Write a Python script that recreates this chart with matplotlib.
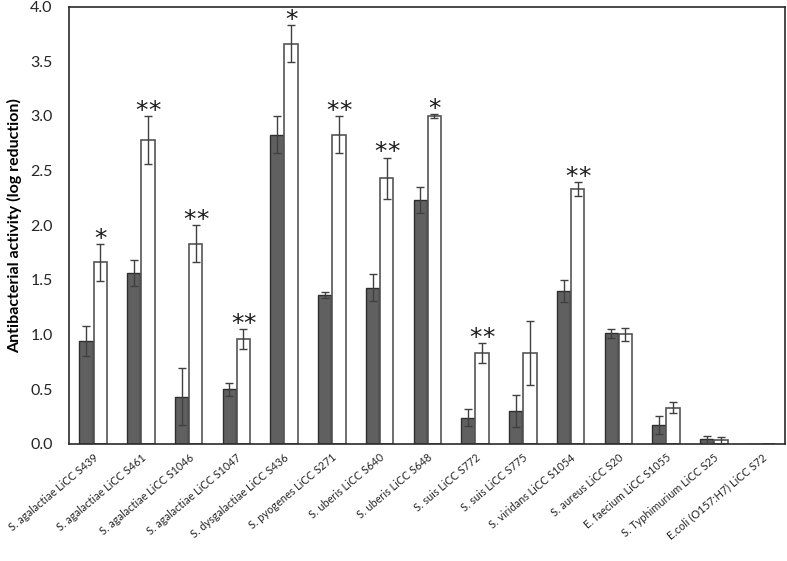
import numpy as np
import matplotlib
matplotlib.use("Agg")
import matplotlib.pyplot as plt

plt.rcParams['font.family'] = ['Lato', 'DejaVu Sans']

# strains on the x axis
strains = ["S. agalactiae LiCC S439", "S. agalactiae LiCC S461",
           "S. agalactiae LiCC S1046", "S. agalactiae LiCC S1047",
           "S. dysgalactiae LiCC S436", "S. pyogenes LiCC S271",
           "S. uberis LiCC S640", "S. uberis LiCC S648",
           "S. suis LiCC S772", "S. suis LiCC S775",
           "S. viridans LiCC S1054", "S. aureus LiCC S20",
           "E. faecium LiCC S1055", "S. Typhimurium LiCC S25",
           "E.coli (O157:H7) LiCC S72"]

# dark bars and their errors
dark_vals = [0.94, 1.56, 0.43, 0.50, 2.83, 1.36, 1.43, 2.23, 0.24, 0.30,
             1.40, 1.01, 0.17, 0.04, 0.0]
dark_err = [0.14, 0.12, 0.26, 0.06, 0.17, 0.03, 0.12, 0.12, 0.08, 0.15,
            0.10, 0.04, 0.08, 0.03, 0.0]

# white bars and their errors
white_vals = [1.66, 2.78, 1.83, 0.96, 3.66, 2.83, 2.43, 3.00, 0.83, 0.83,
              2.33, 1.00, 0.33, 0.03, 0.0]
white_err = [0.17, 0.22, 0.17, 0.09, 0.17, 0.17, 0.19, 0.02, 0.09, 0.29,
             0.065, 0.06, 0.05, 0.03, 0.0]

# significance marks above the white bars
stars = ["*", "**", "**", "**", "*", "**", "**", "*", "**", "",
         "**", "", "", "", ""]

yticks = [0.0, 0.5, 1.0, 1.5, 2.0, 2.5, 3.0, 3.5, 4.0]

fig = plt.figure(figsize=(7.87, 5.61), dpi=100)
ax = fig.add_axes([0.088, 0.209, 0.910, 0.779])

x = np.arange(len(strains)) + 0.5
w = 0.28
off = 0.148

ax.bar(x - off, dark_vals, w, color='#606060', edgecolor='#2e2e2e',
       linewidth=1.0, zorder=2)
ax.bar(x + off, white_vals, w, color='white', edgecolor='#555555',
       linewidth=1.2, zorder=2)

ekw = dict(fmt='none', ecolor='#404040', elinewidth=1.0, capsize=3,
           capthick=1.0, zorder=3)
mask_d = np.array(dark_vals) > 0
mask_w = np.array(white_vals) > 0
ax.errorbar((x - off)[mask_d], np.array(dark_vals)[mask_d],
            yerr=np.array(dark_err)[mask_d], **ekw)
ax.errorbar((x + off)[mask_w], np.array(white_vals)[mask_w],
            yerr=np.array(white_err)[mask_w], **ekw)

# one star centred, two stars side by side
for xi, v, e, s in zip(x + off, white_vals, white_err, stars):
    if not s:
        continue
    shifts = [0] if len(s) == 1 else [-4.6, 4.6]
    for dx in shifts:
        ax.annotate("*", xy=(xi, v + e), xytext=(dx, -5),
                    textcoords='offset points', ha='center', va='bottom',
                    fontsize=18, color='#1a1a1a', family='DejaVu Sans')

ax.set_xlim(0, len(strains))
ax.set_ylim(0, 4.0)
ax.set_yticks(yticks)
ax.set_yticklabels([f"{t:.1f}" for t in yticks], fontsize=11.5,
                   color='#262626')
ax.set_xticks(x)
ax.set_xticklabels(strains, rotation=40, ha='right', rotation_mode='anchor',
                   fontsize=7.8, color='#262626')
ax.tick_params(axis='y', length=0, pad=12)
ax.tick_params(axis='x', length=0, pad=6)
ax.set_ylabel("Antibacterial activity (log reduction)", fontsize=11.5,
              fontweight='bold', labelpad=6)

for sp in ax.spines.values():
    sp.set_color('#2a2a2a')
    sp.set_linewidth(1.2)

fig.savefig("out.png", dpi=100)
